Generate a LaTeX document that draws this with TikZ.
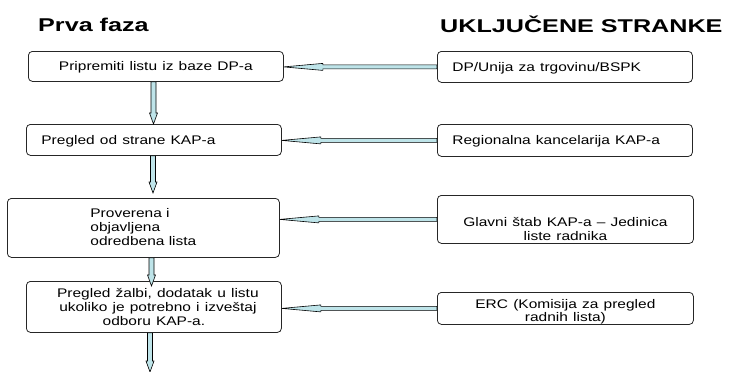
\documentclass[tikz,border=0pt]{standalone}
\usepackage{fontspec}
\usepackage{graphicx}
\newfontfamily\boxfont{Liberation Sans}
\usetikzlibrary{calc}
\definecolor{arrowblue}{RGB}{190,228,233}

\newcommand{\wide}[1]{\scalebox{1.24}[1]{#1}}
\newcommand{\widehead}[1]{\scalebox{1.36}[1]{#1}}
\newcommand{\flowleft}[2]{%
  \draw[flowarrow] let \p1=(#1.west), \p2=(#2.east) in
    (\x1,\y1+2pt) -- (\x2+39pt,\y1+2pt) -- (\x2+39pt,\y1+3.5pt) -- (\x2,\y1)
    -- (\x2+39pt,\y1-3.5pt) -- (\x2+39pt,\y1-2pt) -- (\x1,\y1-2pt) -- cycle;}
\newcommand{\flowdown}[3]{%
  \draw[flowarrow] let \p1=(#2), \p2=(#3), \p3=(#1,0) in
    (\x3-2.5pt,\y1) -- (\x3-2.5pt,\y2+11pt) -- (\x3-4pt,\y2+11pt) -- (\x3,\y2)
    -- (\x3+4pt,\y2+11pt) -- (\x3+2.5pt,\y2+11pt) -- (\x3+2.5pt,\y1) -- cycle;}

\begin{document}
\begin{tikzpicture}[x=1pt,y=-1pt,
  stage/.style={draw=black!85, line width=0.8pt, rounded corners=4pt, fill=white,
    inner sep=0pt, anchor=north west, font=\boxfont\fontsize{12.5pt}{14pt}\selectfont},
  flowarrow/.style={draw=black, line width=0.6pt, fill=arrowblue},
  phasetitle/.style={font=\boxfont\bfseries\fontsize{18.5pt}{20pt}\selectfont,
    inner sep=0pt, anchor=base west}]

\useasboundingbox (0,0) rectangle (729,372);

\node[phasetitle] (fazatitle) at (38,31) {\widehead{Prva faza}};
\node[phasetitle] (strtitle) at (440,32) {\widehead{UKLJUČENE STRANKE}};

\node[stage, text width=255pt, align=center, text height=19pt, text depth=11pt] (p1) at (28,51) {\wide{Pripremiti listu iz baze DP-a}};
\node[stage, text width=225pt, inner xsep=15pt, align=left, text height=20pt, text depth=11pt] (p2) at (26,124) {\wide{Pregled od strane KAP-a}};
\node[stage, minimum width=272pt, align=left, text height=47pt, text depth=12pt] (p3) at (7,198) {\wide{Proverena i}\\ \wide{objavljena}\\ \wide{odredbena lista}};
\node[stage, text width=255pt, align=center, text height=16pt, text depth=35pt] (p4) at (26,281) {\hspace*{8pt}\wide{Pregled žalbi, dodatak u listu}\\ \hspace*{8pt}\wide{ukoliko je potrebno i izveštaj}\\ \wide{odboru KAP-a.}\hspace*{22pt}};

\node[stage, text width=225pt, inner xsep=15pt, align=left, text height=20pt, text depth=11pt] (s1) at (437,51) {\wide{DP/Unija za trgovinu/BSPK}};
\node[stage, text width=225pt, inner xsep=15pt, align=left, text height=20.5pt, text depth=11.5pt] (s2) at (437,124) {\wide{Regionalna kancelarija KAP-a}};
\node[stage, text width=256pt, align=center, text height=31.5pt, text depth=16.5pt] (s3) at (437,195) {\wide{Glavni štab KAP-a – Jedinica}\hspace*{10pt}\\ \wide{liste radnika}\hspace*{10pt}};
\node[stage, text width=256pt, align=center, text height=16.5pt, text depth=15.5pt] (s4) at (437,292) {\wide{ERC (Komisija za pregled}\hspace*{23pt}\\[-1.7pt] \wide{radnih lista)}};

\coordinate (listend) at (150,372);

\flowleft{s1}{p1}
\flowleft{s2}{p2}
\flowleft{s3}{p3}
\flowleft{s4}{p4}

\flowdown{153.5}{p1.south}{p2.north}
\flowdown{153}{p2.south}{$(p3.north)+(0,-5)$}
\flowdown{151.5}{p3.south}{$(p4.north)+(0,5)$}
\flowdown{150}{p4.south}{listend}
\end{tikzpicture}
\end{document}
